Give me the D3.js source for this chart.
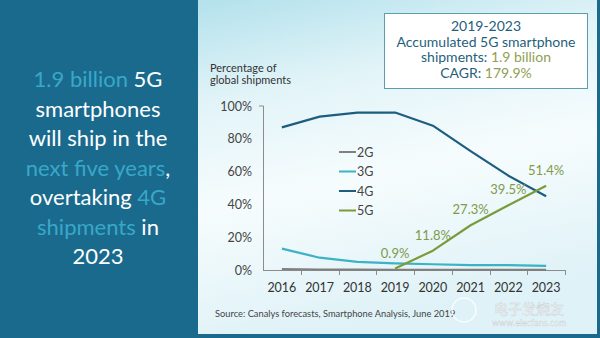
<!DOCTYPE html>
<html><head><meta charset="utf-8">
<script src="https://cdn.jsdelivr.net/npm/d3@7"></script>
<style>html,body{margin:0;padding:0;background:#1a6a8e;}svg{display:block;}</style>
</head><body>
<svg id="c" width="600" height="338"></svg>
<script>
const years = [2016, 2017, 2018, 2019, 2020, 2021, 2022, 2023];
const series2G = [0.6, 0.3, 0.2, 0.1, 0.1, 0.1, 0.1, 0.1];
const series3G = [13, 7.5, 5, 4, 3.5, 3, 3, 2.5];
const series4G = [87, 93.5, 96, 96, 88, 72.5, 57.5, 45];
const series5G = [null, null, null, 0.9, 11.8, 27.3, 39.5, 51.4];
const yTicks = [0, 20, 40, 60, 80, 100];
const seriesNames = ["2G", "3G", "4G", "5G"];
const seriesColors = ["#808080", "#3db2c4", "#1d5e7e", "#7a9b3c"];
const headlineLines = [
  [["1.9 billion ", true], ["5G", false]],
  [["smartphones", false]],
  [["will ship in the", false]],
  [["next five years", true], [",", false]],
  [["overtaking ", false], ["4G", true]],
  [["shipments", true], [" in", false]],
  [["2023", false]]
];
const boxLines = [
  [["2019-2023", false]],
  [["Accumulated 5G smartphone", false]],
  [["shipments: ", false], ["1.9 billion", true]],
  [["CAGR: ", false], ["179.9%", true]]
];
const yTitle = ["Percentage of", "global shipments"];
const sourceText = "Source: Canalys forecasts, Smartphone Analysis, June 2019";

const svg = d3.select("#c");
const defs = svg.append("defs");
const g1 = defs.append("linearGradient").attr("id","bg").attr("x1",0).attr("y1",0).attr("x2",0.25).attr("y2",1);
g1.append("stop").attr("offset","0%").attr("stop-color","#b3e1ec");
g1.append("stop").attr("offset","30%").attr("stop-color","#e2f4f8");
g1.append("stop").attr("offset","60%").attr("stop-color","#f6fcfd");
g1.append("stop").attr("offset","100%").attr("stop-color","#dff2f7");

// frame
svg.append("rect").attr("x",0).attr("y",0).attr("width",600).attr("height",338).attr("fill","#1a6a8e");
svg.append("rect").attr("x",198).attr("y",0).attr("width",399).attr("height",334).attr("fill","url(#bg)");

// left headline
headlineLines.forEach((line,i)=>{
  const t = svg.append("text").attr("text-anchor","middle").attr("x",98).attr("y",87+i*29.5)
    .attr("font-family","Lato, sans-serif").attr("font-size",22);
  line.forEach(([s,hi])=>{
    t.append("tspan").attr("fill",hi?"#38a8c8":"#ffffff").text(s);
  });
});

// info box
svg.append("rect").attr("x",384.5).attr("y",13.5).attr("width",203).attr("height",75)
  .attr("fill","#ffffff").attr("stroke","#5d9db2").attr("stroke-width",1);
boxLines.forEach((line,i)=>{
  const t = svg.append("text").attr("text-anchor","middle").attr("x",486).attr("y",31+i*15.7)
    .attr("font-family","Lato, sans-serif").attr("font-size",14);
  line.forEach(([s,hi])=>{
    t.append("tspan").attr("fill",hi?"#8fa054":"#1f5f7c").text(s);
  });
});

// y title
yTitle.forEach((s,i)=>{
  svg.append("text").attr("x",210).attr("y",72+i*12).attr("font-family","Lato, sans-serif")
    .attr("font-size",11).attr("fill","#333").text(s);
});

// scales
const x = d3.scaleBand().domain(years).range([263,565]).padding(0);
const cx = d => x(d) + x.bandwidth()/2;
const y = d3.scaleLinear().domain([0,100]).range([270,106]);

// y axis
const yAxis = d3.axisLeft(y).tickValues(yTicks).tickSize(0).tickPadding(11).tickFormat(d=>d+"%");
const ya = svg.append("g").attr("transform","translate(263,0)").call(yAxis);
ya.select(".domain").remove();
ya.selectAll("text").attr("font-family","Lato, sans-serif").attr("font-size",12.5).attr("fill","#444");
svg.append("path").attr("d",`M259,${y(100)}H263.5V${y(0)}`).attr("fill","none").attr("stroke","#8c8c8c").attr("stroke-width",1);

// x axis
const xAxis = d3.axisBottom(x).tickSize(0).tickPadding(13);
const xa = svg.append("g").attr("transform",`translate(0,${y(0)})`).call(xAxis);
xa.select(".domain").remove();
xa.selectAll("text").attr("font-family","Lato, sans-serif").attr("font-size",12.5).attr("fill","#333");
svg.append("line").attr("x1",263).attr("x2",565).attr("y1",y(0)+0.5).attr("y2",y(0)+0.5).attr("stroke","#8c8c8c");
const bounds = years.map(d=>x(d)).concat([x(years[years.length-1])+x.bandwidth()]).slice(1);
svg.selectAll(".xt").data(bounds).enter().append("line")
  .attr("x1",d=>Math.round(d)+0.5).attr("x2",d=>Math.round(d)+0.5)
  .attr("y1",y(0)).attr("y2",y(0)+5).attr("stroke","#8c8c8c");

// lines
const allSeries = [series2G, series3G, series4G, series5G];
const line = d3.line().defined(d=>d.v!=null).x(d=>cx(d.year)).y(d=>y(d.v)).curve(d3.curveLinear);
allSeries.forEach((s,i)=>{
  const data = years.map((yr,k)=>({year:yr, v:s[k]}));
  svg.append("path").datum(data).attr("d",line).attr("fill","none")
    .attr("stroke",seriesColors[i]).attr("stroke-width",2.2).attr("stroke-linejoin","round");
});

// 5G labels
const lab = years.map((yr,k)=>({year:yr, v:series5G[k]})).filter(d=>d.v!=null);
svg.selectAll(".lab").data(lab).enter().append("text")
  .attr("x",d=>cx(d.year)).attr("y",d=>y(d.v)-11).attr("text-anchor","middle")
  .attr("font-family","Lato, sans-serif").attr("font-size",13).attr("fill","#7f9a4a")
  .text(d=>d.v.toFixed(1)+"%");

// legend
seriesNames.forEach((n,i)=>{
  const yy = 152 + i*19.5;
  svg.append("line").attr("x1",339).attr("x2",356).attr("y1",yy).attr("y2",yy)
    .attr("stroke",seriesColors[i]).attr("stroke-width",2);
  svg.append("text").attr("x",357).attr("y",yy+4.5).attr("font-family","Lato, sans-serif")
    .attr("font-size",12.5).attr("fill","#444").text(n);
});

// source
svg.append("text").attr("x",215).attr("y",317).attr("font-family","Lato, sans-serif")
  .attr("font-size",9.3).attr("fill","#444").text(sourceText);

// watermark
svg.append("circle").attr("cx",464).attr("cy",310).attr("r",12).attr("fill","none").attr("stroke","#ffffff").attr("stroke-opacity",0.8).attr("stroke-width",1.5);
svg.append("text").attr("x",494).attr("y",314).attr("font-family","Noto Sans CJK SC, sans-serif")
  .attr("font-size",14).attr("fill","#ffffff").attr("stroke","#c8d0d4").attr("stroke-width",0.5).text("电子发烧友");
svg.append("text").attr("x",492).attr("y",326).attr("font-family","Lato, sans-serif")
  .attr("font-size",9).attr("fill","#ffffff").attr("stroke","#c8d0d4").attr("stroke-width",0.4).text("www.elecfans.com");
</script>
</body></html>
